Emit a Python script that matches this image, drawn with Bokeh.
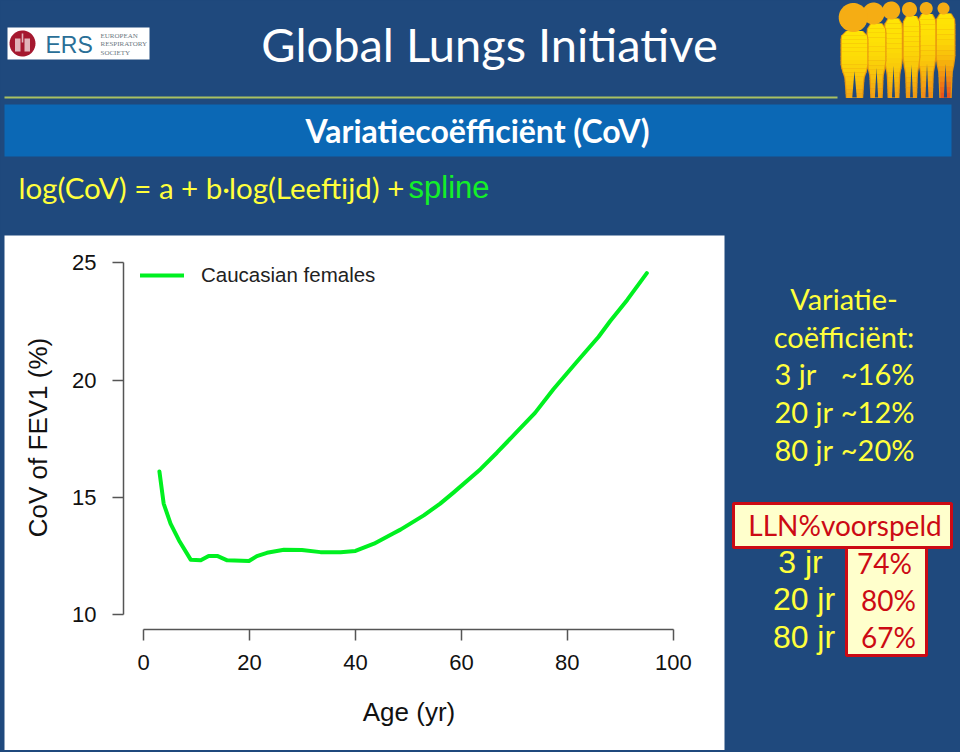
import numpy as np
from bokeh.plotting import figure
from bokeh.models import Label, BoxAnnotation, PolyAnnotation, Range1d, FixedTicker, Legend, LegendItem
from bokeh.embed import file_html
from bokeh.resources import INLINE

# ---- data
age = [3, 3.8, 5.1, 6.7, 8.9, 10.8, 12.3, 13.9, 15.8, 19.9, 21.4, 23.3, 26.5, 29.9, 33.4, 37.2, 40,
       43.5, 47.2, 48.5, 52.9, 56, 58.5, 63.6, 66.7, 70.5, 73.9, 77.4, 81.8, 85.9, 88.1, 91.3, 95]
cov = [16.1, 14.73, 13.88, 13.16, 12.34, 12.31, 12.5, 12.5, 12.31, 12.28, 12.49, 12.63, 12.76, 12.75, 12.66, 12.66, 12.71,
       13.02, 13.47, 13.62, 14.23, 14.73, 15.2, 16.2, 16.9, 17.8, 18.6, 19.62, 20.78, 21.85, 22.52, 23.42, 24.56]
x_ticks = [0, 20, 40, 60, 80, 100]
y_ticks = [10, 15, 20, 25]
series_name = "Caucasian females"
cov_heading = ["Variatie-", "coëfficiënt:"]
cov_ages = ["3 jr", "20 jr", "80 jr"]
cov_values = ["~16%", "~12%", "~20%"]
lln_ages = ["3 jr", "20 jr", "80 jr"]
lln_values = ["74%", "80%", "67%"]

W, H = 960, 752
BG = "#1F497D"
YEL = "#FFFF3C"
RED = "#CC0A14"
SANS = "Liberation Sans"
CAL = "Lato"
NOLIG = ["text{font-variant-ligatures:none;font-feature-settings:'liga' 0}"]

# slide backdrop: a figure whose frame fills the whole window
bg = figure(width=W, height=H, output_backend="svg", toolbar_location=None,
            x_range=Range1d(0, W), y_range=Range1d(H, 0), x_axis_type=None, y_axis_type=None,
            min_border=0, border_fill_color=BG, background_fill_color=BG, outline_line_color=None)
bg.grid.visible = False
bg.styles = {"position": "fixed", "left": "0", "top": "0", "background-color": BG}
bg.stylesheets = NOLIG

# chart on top, transparent around its own frame
p = figure(width=W, height=H, output_backend="svg", toolbar_location=None,
           x_range=Range1d(-3.78, 104.0), y_range=Range1d(9.36, 25.74),
           min_border_left=123, min_border_right=266, min_border_top=245, min_border_bottom=123,
           x_axis_label="Age (yr)", y_axis_label="CoV of FEV1 (%)",
           border_fill_alpha=0, background_fill_alpha=0, outline_line_color=None)
p.styles = {"position": "fixed", "left": "0", "top": "0"}
p.grid.visible = False


def box(l, r, t, b, fill, line=None, lw=0):
    bg.add_layout(BoxAnnotation(left=l, right=r, top=t, bottom=b, left_units="canvas", right_units="canvas",
                                top_units="canvas", bottom_units="canvas", fill_color=fill, fill_alpha=1,
                                line_color=line, line_width=lw, line_alpha=1 if line else 0))


def poly(xs, ys, fill):
    bg.add_layout(PolyAnnotation(xs=list(xs), ys=list(ys), xs_units="canvas", ys_units="canvas",
                                 fill_color=fill, fill_alpha=1, line_alpha=0))


def txt(x, y, s, size, color, font=CAL, align="left", style="normal"):
    bg.add_layout(Label(x=x, y=y - 2, x_units="canvas", y_units="canvas", text=s, text_font=font,
                        text_font_size=f"{size}px", text_color=color, text_align=align, text_baseline="middle",
                        text_font_style=style))


# white chart panel
box(4, 724, 235, 749.5, "white")

# chart
r = p.line(age, cov, line_color="#00F020", line_width=4, line_join="round", line_cap="round")
leg = Legend(items=[LegendItem(label=series_name, renderers=[r])], location=(17, 342), padding=0, margin=0,
             border_line_color=None, background_fill_alpha=0, glyph_width=44, glyph_height=24, label_standoff=17,
             label_text_font=SANS, label_text_font_size="20.5px", label_text_color="#222222", label_height=24)
p.add_layout(leg)

for ax, ticks in ((p.xaxis[0], x_ticks), (p.yaxis[0], y_ticks)):
    ax.ticker = FixedTicker(ticks=ticks)
    ax.bounds = (ticks[0], ticks[-1])
    ax.axis_line_color = "#555555"
    ax.axis_line_width = 1.5
    ax.major_tick_line_color = "#555555"
    ax.major_tick_line_width = 1.5
    ax.major_tick_in = 0
    ax.minor_tick_line_color = None
    ax.major_label_text_font = SANS
    ax.major_label_text_font_size = "22px"
    ax.major_label_text_color = "#111111"
    ax.axis_label_text_font = SANS
    ax.axis_label_text_font_size = "26px"
    ax.axis_label_text_font_style = "normal"
    ax.axis_label_text_color = "#111111"
p.xaxis[0].major_tick_out = 11
p.yaxis[0].major_tick_out = 11
p.xaxis[0].major_label_standoff = 14
p.yaxis[0].major_label_standoff = 16
p.xaxis[0].axis_label_standoff = 24
p.yaxis[0].axis_label_standoff = 16

# header
txt(489, 45, "Global Lungs Initiative", 47, "white", align="center")
box(4, 837, 96, 98, "#A9C162")
box(4, 951, 104, 156, "#0B68B5")
txt(477, 132, "Variatiecoëfficiënt (CoV)", 32, "white", align="center", style="bold")
txt(18, 189, "log(CoV) = a + b·log(Leeftijd) +", 29.5, YEL)
txt(408, 189, "spline", 31, "#14F028", font=SANS)

# ERS logo
box(7, 149, 27, 59, "white")
th = np.linspace(0, 2 * np.pi, 40)
poly(22 + 13 * np.cos(th), 43 + 13 * np.sin(th), "#A5182F")
box(14.5, 20, 38, 51, "#E2B4BA")
box(24, 29.5, 38, 51, "#E2B4BA")
box(21.2, 22.8, 33, 42, "#E2B4BA")
txt(45, 46, "ERS", 23, "#2A6F97", font=SANS)
for i, s in enumerate(["EUROPEAN", "RESPIRATORY", "SOCIETY"]):
    txt(100, 37 + 8.5 * i, s, 7, "#6B7780", font="Liberation Serif")

# silhouettes, right to left so the left ones overlap
# (head x, head y, head r, body x, body half width, colour at the feet)
people = [(943, 8, 6, 945, 10, "#E8541C"), (925.7, 8, 6.5, 926.5, 9.5, "#F08A18"), (909, 9, 7.5, 911, 9, "#F09A14"),
          (890.7, 10, 9, 893, 9.5, "#F0A014"), (873, 13, 11, 876, 10, "#F0A014"), (852.7, 17, 14.5, 854, 14, "#F4A814")]
prof_y = [0, .07, .5, .6, .7, 1]
prof_w = [.62, 1, 1, .9, .72, .62]
for hx, hy, hr, cx, hw, foot in people:
    top = hy + hr - 1
    h = 97 - top
    n = 16
    edges = np.linspace(0, 1, n + 1)
    for k in range(n):
        a, b = edges[k], edges[k + 1]
        wa, wb = np.interp(a, prof_y, prof_w) * hw, np.interp(b, prof_y, prof_w) * hw
        f = k / (n - 1)
        c1 = np.array([0xFF, 0xE4, 0x05])
        c2 = np.array([int(foot[i:i + 2], 16) for i in (1, 3, 5)])
        mix = c1 * (1 - f ** 2) + c2 * f ** 2
        col = "#%02X%02X%02X" % tuple(int(v) for v in mix)
        ya, yb = top + a * h, top + b * h + .5
        poly([cx - wa, cx + wa, cx + wb, cx - wb], [ya, ya, yb, yb], "#E8980F")
        wa2, wb2 = wa - 1.2, wb - 1.2
        poly([cx - wa2, cx + wa2, cx + wb2, cx - wb2], [ya, ya, yb, yb], col)
    poly([cx, cx + hw * .16, cx - hw * .16], [top + .6 * h, 97, 97], BG)
    poly(hx + hr * np.cos(th), hy + hr * np.sin(th), "#F5AD14")

# right-hand notes
for s, y in zip(cov_heading, [300, 338]):
    txt(843.5, y, s, 29, YEL, align="center")
for s, v, y in zip(cov_ages, cov_values, [375, 413, 451]):
    txt(774, y, s, 29, YEL)
    txt(914, y, v, 29, YEL, align="right")

# LLN block
box(846, 926, 545, 655, "#FFFFCC", RED, 3)
box(733, 951, 503, 547, "#FFFFCC", RED, 3)
txt(844.5, 526, "LLN%voorspeld", 28, RED, align="center")
for s, x, y in zip(lln_values, [884, 888, 888], [564, 601, 638]):
    txt(x, y, s, 28, RED, align="center")
for s, x, y in zip(lln_ages, [800, 803.5, 803.5], [563, 600, 638]):
    txt(x, y, s, 32, YEL, font=SANS, align="center")

open("out.html", "w").write(file_html([bg, p], INLINE))
